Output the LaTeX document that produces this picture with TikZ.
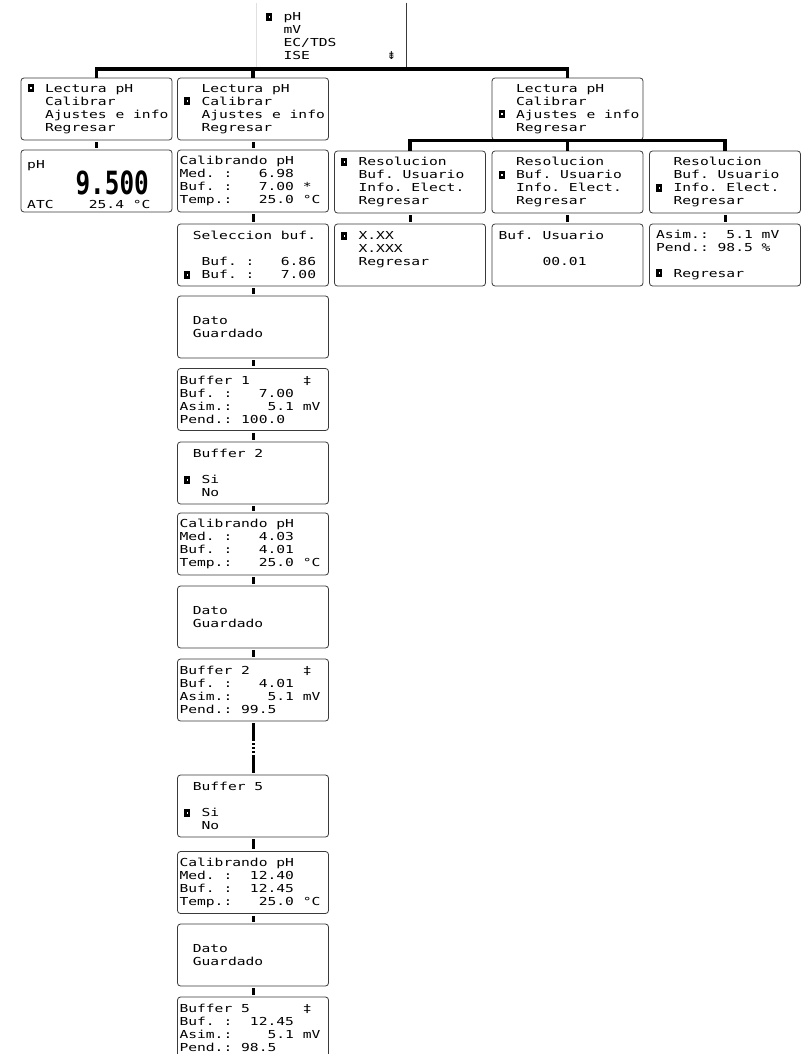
\documentclass[tikz,border=0pt]{standalone}
\usepackage{fontspec}
\usepackage{tikz}
\newfontfamily\lcd[FakeStretch=1.33]{DejaVu Sans Mono}
\newfontfamily\lcdbig[FakeStretch=0.76]{DejaVu Sans Mono}
\newfontfamily\lcdsym{DejaVu Sans}
\definecolor{lcdline}{HTML}{3A3A3A}
\newcommand{\lcdtext}{\lcd\fontsize{11pt}{13pt}\selectfont}
\newcommand{\blk}{\phantom{0}}
\newcommand{\sel}{\leavevmode\rlap{\rule{6pt}{8pt}}\rlap{\hspace{2.5pt}\textcolor{white}{\rule[3pt]{1.5pt}{2pt}}}\phantom{0}}

\begin{document}
\begin{tikzpicture}[x=1pt, y=-1pt,
    screen/.style={draw=lcdline, line width=0.8pt, rounded corners=3pt, minimum width=151pt, minimum height=62pt,
        inner xsep=6.5pt, inner ysep=0pt, text width=138pt, align=left, font=\lcdtext},
    tight/.style={screen, inner xsep=2pt, text width=147pt},
    link/.style={line width=3pt, shorten <=2pt, shorten >=2pt},
    bus/.style={line width=3.4pt}]
    \fill[white] (0,0) rectangle (802,1054);
    \useasboundingbox (0,0) rectangle (802,1054);

    % Top menu (only right edge shown)
    \node[font=\lcdtext, align=left, text width=130pt, inner xsep=10pt, inner ysep=0pt, minimum width=150pt, minimum height=66pt] (menu) at (331,36)
        {\sel\blk pH\\ \blk\blk mV\\ \blk\blk EC/TDS\\ \blk\blk ISE\hspace{\fill}{\lcdsym ⇟}};
    \draw[lcdline, line width=0.8pt] (menu.north east) -- (menu.south east);
    \draw[black!12, line width=0.6pt] (menu.north west) -- (menu.south west);

    % First level
    \node[screen] (lectA) at (96.5,109) {\sel\blk Lectura\blk pH\\ \blk\blk Calibrar\\ \blk\blk Ajustes\blk e\blk info\\ \blk\blk Regresar};
    \node[screen] (calB) at (253,109) {\blk\blk Lectura\blk pH\\ \sel\blk Calibrar\\ \blk\blk Ajustes\blk e\blk info\\ \blk\blk Regresar};
    \node[screen] (ajuC) at (567.5,109) {\blk\blk Lectura\blk pH\\ \blk\blk Calibrar\\ \sel\blk Ajustes\blk e\blk info\\ \blk\blk Regresar};

    % Measuring screen
    \node[screen] (phA) at (96.5,181) {};
    \node[font=\lcdtext, inner sep=0pt, anchor=base west] (phunit) at (27,168) {pH};
    \node[font=\lcdbig\bfseries\fontsize{32pt}{32pt}\selectfont, inner sep=0pt, anchor=base east] (phval) at (149,194) {9.500};
    \node[font=\lcdtext, inner sep=0pt, anchor=base west] (phtemp) at (27,208) {ATC\blk\blk\blk\blk25.4\blk°C};

    % Settings branch
    \node[screen] (resD1) at (410,182) {\sel\blk Resolucion\\ \blk\blk Buf.\blk Usuario\\ \blk\blk Info.\blk Elect.\\ \blk\blk Regresar};
    \node[screen] (resD2) at (567.5,182) {\blk\blk Resolucion\\ \sel\blk Buf.\blk Usuario\\ \blk\blk Info.\blk Elect.\\ \blk\blk Regresar};
    \node[screen] (resD3) at (725,182) {\blk\blk Resolucion\\ \blk\blk Buf.\blk Usuario\\ \sel\blk Info.\blk Elect.\\ \blk\blk Regresar};
    \node[screen] (xxD1) at (410,255) {\sel\blk X.XX\\ \blk\blk X.XXX\\ \blk\blk Regresar\\ \blk};
    \node[screen] (bufD2) at (567.5,255) {Buf.\blk Usuario\\ \blk\\ \blk\blk\blk\blk\blk 00.01\\ \blk};
    \node[screen] (infoD3) at (725,255) {Asim.:\blk\blk5.1\blk mV\\ Pend.:\blk98.5\blk\%\\ \blk\\ \sel\blk Regresar};

    % Calibration sequence
    \node[tight] (calib1) at (253,181) {Calibrando\blk pH\\ Med.\blk:\blk\blk\blk6.98\\ Buf.\blk:\blk\blk\blk7.00\blk*\\ Temp.:\blk\blk\blk25.0\blk°C};
    \node[screen] (selbuf) at (253,255) {\blk Seleccion\blk buf.\\ \blk\\ \blk\blk Buf.\blk:\blk\blk\blk6.86\\ \sel\blk Buf.\blk:\blk\blk\blk7.00};
    \node[screen] (dato1) at (253,327) {\blk Dato\\ \blk Guardado};
    \node[tight] (buf1) at (253,399.5) {Buffer\blk 1\blk\blk\blk\blk\blk\blk‡\\ Buf.\blk:\blk\blk\blk7.00\\ Asim.:\blk\blk\blk\blk5.1\blk mV\\ Pend.:\blk 100.0};
    \node[screen] (si2) at (253,473) {\blk Buffer\blk 2\\ \blk\\ \sel\blk Si\\ \blk\blk No};
    \node[tight] (calib2) at (253,544) {Calibrando\blk pH\\ Med.\blk:\blk\blk\blk4.03\\ Buf.\blk:\blk\blk\blk4.01\\ Temp.:\blk\blk\blk25.0\blk°C};
    \node[screen] (dato2) at (253,617) {\blk Dato\\ \blk Guardado};
    \node[tight] (buf2) at (253,690) {Buffer\blk 2\blk\blk\blk\blk\blk\blk‡\\ Buf.\blk:\blk\blk\blk4.01\\ Asim.:\blk\blk\blk\blk5.1\blk mV\\ Pend.:\blk 99.5};
    \node[screen] (si5) at (253,806) {\blk Buffer\blk 5\\ \blk\\ \sel\blk Si\\ \blk\blk No};
    \node[tight] (calib5) at (253,882.5) {Calibrando\blk pH\\ Med.\blk:\blk\blk12.40\\ Buf.\blk:\blk\blk12.45\\ Temp.:\blk\blk\blk25.0\blk°C};
    \node[screen] (dato5) at (253,955) {\blk Dato\\ \blk Guardado};
    \node[tight] (buf5) at (253,1028) {Buffer\blk 5\blk\blk\blk\blk\blk\blk‡\\ Buf.\blk:\blk\blk12.45\\ Asim.:\blk\blk\blk\blk5.1\blk mV\\ Pend.:\blk 98.5};

    % Bus lines
    \draw[bus] (lectA.north) -- (lectA.north |- menu.south) -- (ajuC.north |- menu.south) -- (ajuC.north);
    \draw[bus] (calB.north |- menu.south) -- (calB.north);
    \draw[bus] (resD1.north) -- (resD1.north |- ajuC.south) -- (resD3.north |- ajuC.south) -- (resD3.north);
    \draw[bus] (ajuC.south) -- (resD2.north);

    % Short links between screens
    \foreach \a/\b in {lectA/phA, calB/calib1, calib1/selbuf, selbuf/dato1, dato1/buf1, buf1/si2, si2/calib2,
        calib2/dato2, dato2/buf2, si5/calib5, calib5/dato5, dato5/buf5, resD1/xxD1, resD2/bufD2, resD3/infoD3}
        \draw[link] (\a.south) -- (\b.north);

    % Skipped buffers 3 and 4
    \draw[link, dash pattern=on 18pt off 2pt on 2pt off 2pt on 2pt off 2pt on 2pt off 2pt on 18pt off 0pt] (buf2.south) -- (si5.north);
\end{tikzpicture}
\end{document}
